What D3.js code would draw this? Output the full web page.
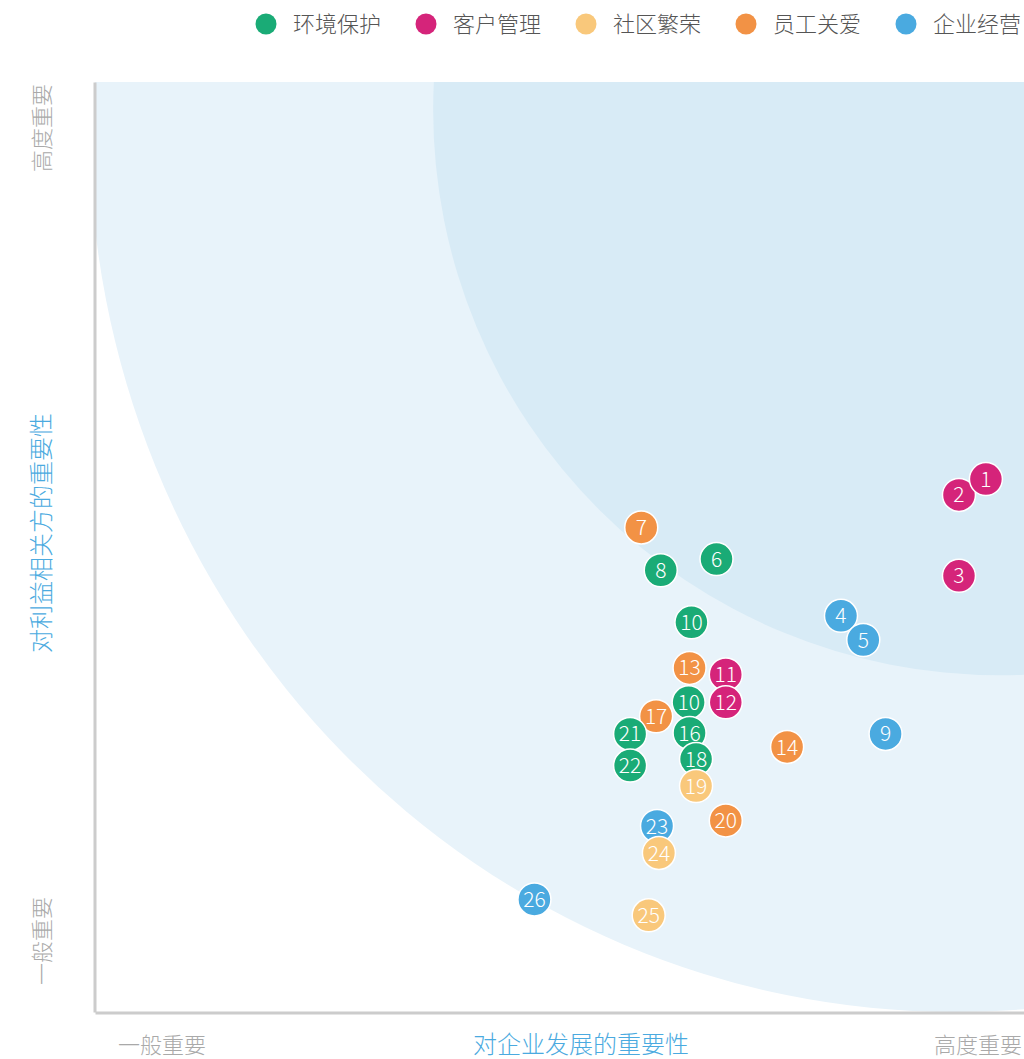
<!DOCTYPE html>
<html>
<head>
<meta charset="utf-8">
<script src="https://cdn.jsdelivr.net/npm/d3@7"></script>
<style>
  body { margin: 0; background: #fff; }
  svg text { font-family: "Noto Sans CJK SC", "Noto Sans", sans-serif; font-weight: 300; }
</style>
</head>
<body>
<div id="chart"></div>
<script>
// series (legend order)
let categories = ['环境保护', '客户管理', '社区繁荣', '员工关爱', '企业经营'];
let catColors = ['#1aab76', '#d5247a', '#f9c87b', '#f29245', '#4aaae0'];

// issue number, category index, x (对企业发展的重要性), y (对利益相关方的重要性)
let ids  = ['2', '1', '3', '4', '5', '6', '7', '8', '10', '13', '11', '12', '10', '17', '21', '16', '18', '22', '19', '14', '9', '20', '23', '24', '25', '26'];
let cats = [1, 1, 1, 4, 4, 0, 3, 0, 0, 3, 1, 1, 0, 3, 0, 0, 0, 0, 2, 3, 4, 3, 4, 2, 2, 4];
let xs   = [93.0, 95.9, 93.0, 80.3, 82.7, 66.9, 58.8, 60.9, 64.2, 64.0, 67.9, 67.9, 63.9, 60.4, 57.6, 64.0, 64.7, 57.6, 64.7, 74.5, 85.1, 67.9, 60.5, 60.7, 59.6, 47.3];
let ys   = [55.6, 57.3, 46.9, 42.6, 40.0, 48.7, 52.1, 47.5, 41.9, 37.0, 36.3, 33.3, 33.3, 31.8, 29.9, 30.0, 27.2, 26.5, 24.3, 28.5, 29.9, 20.6, 20.0, 17.1, 10.4, 12.1];

// background zones: centre and radii in data units
let zoneCx = [92.6, 97.4];
let zoneCy = [95.1, 97.0];
let zoneRx = [93.2, 61.0];
let zoneRy = [95.1, 60.8];
let zoneFill = ['#e8f3fa', '#d8ebf6'];

let width = 1024, height = 1059;
let plotLeft = 95, plotRight = 1024, plotTop = 82, plotBottom = 1012;

let svg = d3.select('#chart').append('svg')
    .attr('width', width)
    .attr('height', height);

let x = d3.scaleLinear().domain([0, 100]).range([plotLeft, plotRight]);
let y = d3.scaleLinear().domain([0, 100]).range([plotBottom, plotTop]);

svg.append('clipPath').attr('id', 'plotclip')
    .append('rect')
    .attr('x', plotLeft).attr('y', plotTop)
    .attr('width', plotRight - plotLeft).attr('height', plotBottom - plotTop);

let zoneG = svg.append('g').attr('clip-path', 'url(#plotclip)');
zoneFill.forEach((f, i) => {
    zoneG.append('ellipse')
        .attr('cx', x(zoneCx[i]))
        .attr('cy', y(zoneCy[i]))
        .attr('rx', x(zoneRx[i]) - x(0))
        .attr('ry', y(0) - y(zoneRy[i]))
        .attr('fill', f);
});

// axes: plain lines, no ticks
let xAxis = d3.axisBottom(x).tickValues([]).tickSizeOuter(0);
let yAxis = d3.axisLeft(y).tickValues([]).tickSizeOuter(0);
svg.append('g').attr('transform', `translate(0,${plotBottom + 0.5})`).call(xAxis)
    .select('.domain').attr('stroke', '#cccccc').attr('stroke-width', 3);
svg.append('g').attr('transform', `translate(${plotLeft - 0.5},0)`).call(yAxis)
    .select('.domain').attr('stroke', '#cccccc').attr('stroke-width', 3);

// axis end labels
let grey = '#a9a9a9';
let blue = '#4aaae0';
svg.append('text').attr('x', 118).attr('y', 1053).attr('font-size', 22).attr('fill', grey).text('一般重要');
svg.append('text').attr('x', 1022).attr('y', 1053).attr('text-anchor', 'end').attr('font-size', 22).attr('fill', grey).text('高度重要');
svg.append('text').attr('x', 581).attr('y', 1053).attr('text-anchor', 'middle').attr('font-size', 24).attr('fill', blue).text('对企业发展的重要性');

svg.append('text').attr('transform', 'translate(50,985) rotate(-90)').attr('font-size', 22).attr('fill', grey).text('一般重要');
svg.append('text').attr('transform', 'translate(50,172) rotate(-90)').attr('font-size', 22).attr('fill', grey).text('高度重要');
svg.append('text').attr('transform', 'translate(50,533) rotate(-90)').attr('text-anchor', 'middle').attr('font-size', 24).attr('fill', blue).text('对利益相关方的重要性');

// points
let pts = ids.map((d, i) => ({id: d, c: cats[i], x: xs[i], y: ys[i]}));
let node = svg.append('g').selectAll('g')
    .data(pts)
    .enter()
    .append('g')
    .attr('transform', d => `translate(${x(d.x)},${y(d.y)})`);
node.append('circle')
    .attr('r', 16.5)
    .attr('fill', d => catColors[d.c])
    .attr('stroke', '#fff')
    .attr('stroke-width', 1.5);
node.append('text')
    .attr('text-anchor', 'middle')
    .attr('dy', '0.36em')
    .attr('font-size', 21)
    .attr('fill', '#fff')
    .text(d => d.id);

// legend
let legend = svg.append('g').selectAll('g')
    .data(categories)
    .enter()
    .append('g')
    .attr('transform', (d, i) => `translate(${266 + i * 160},24)`);
legend.append('circle').attr('r', 10.5).attr('fill', (d, i) => catColors[i]);
legend.append('text')
    .attr('x', 27)
    .attr('dy', '0.36em')
    .attr('font-size', 22)
    .attr('fill', '#555')
    .text(d => d);
</script>
</body>
</html>
